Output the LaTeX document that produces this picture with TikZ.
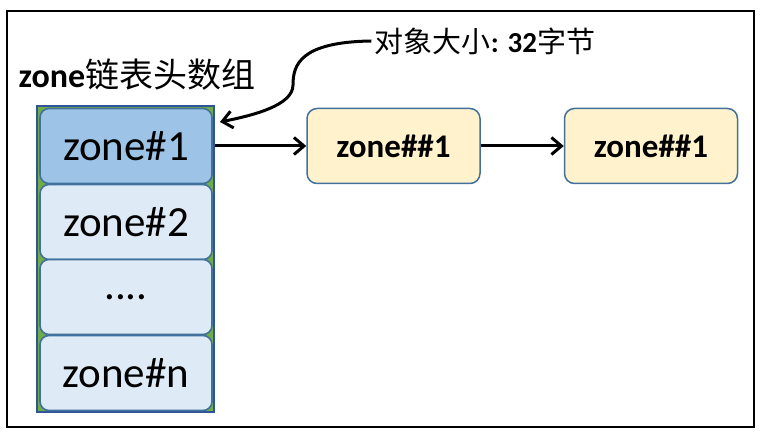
\documentclass[tikz,border=0pt]{standalone}
\usepackage{fontspec}
\setmainfont{Carlito}
\newfontfamily\cjk{Noto Sans CJK SC}
\usetikzlibrary{arrows.meta}
\definecolor{slotblue}{HTML}{DEEBF7}
\definecolor{headblue}{HTML}{9DC3E6}
\definecolor{edgeblue}{HTML}{41719C}
\definecolor{darkblue}{HTML}{2F5597}
\definecolor{colgreen}{HTML}{70AD47}
\definecolor{objyellow}{HTML}{FFF2CC}
\tikzset{
  column/.style={draw=darkblue,line width=2pt,fill=colgreen,minimum width=177pt,minimum height=306pt},
  slot/.style={draw=edgeblue,line width=1.6pt,fill=slotblue,rounded corners=9pt,minimum width=172pt,minimum height=75pt,font=\fontsize{43}{44}\selectfont},
  objbox/.style={draw=edgeblue,line width=1.5pt,fill=objyellow,rounded corners=10pt,minimum width=173pt,minimum height=75pt,font=\fontsize{33}{34}\selectfont\bfseries},
  link/.style={line width=3pt,-{Straight Barb[length=10pt,width=17pt]}}
}
\begin{document}
\begin{tikzpicture}[x=1pt,y=-1pt]
      \useasboundingbox (0,0) rectangle (770,435);
      \draw[line width=2.2pt] (7,11) rectangle (754,427);

      \node[font=\fontsize{34}{35}\selectfont] (title) at (137,75) {\textbf{zone}{\cjk 链表头数组}};
      \node[font=\fontsize{29}{30}\selectfont] (size) at (485,41) {{\cjk 对象大小}\textbf{: 32}{\cjk 字节}};

      \node[column] (column) at (125.5,259) {};
      \node[slot,fill=headblue] (slot 1) at (126,146) {zone\#1};
      \node[slot] (slot 2) at (126,222) {zone\#2};
      \node[slot] (slot 3) at (126,297) {....};
      \node[slot] (slot n) at (126,373) {zone\#n};

      \node[objbox] (obj 1) at (393.5,146) {zone\#\#1};
      \node[objbox] (obj 2) at (651,146) {zone\#\#1};
      \coordinate (tip) at (220,122);

      \draw[link] (column.east |- slot 1) -- (obj 1);
      \draw[link] (obj 1) -- (obj 2);
      \draw[link] (size.west) .. controls (300,42) and (293,65) .. (293,85)
                  .. controls (293,105) and (255,115) .. (tip);
    \end{tikzpicture}
\end{document}
